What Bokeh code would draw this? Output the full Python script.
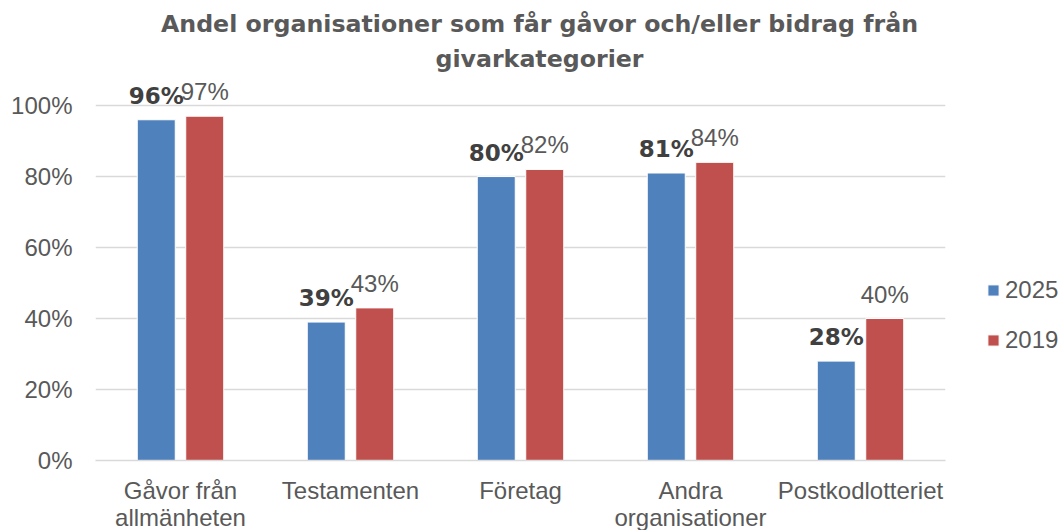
from bokeh.plotting import figure
from bokeh.models import (ColumnDataSource, FactorRange, Range1d, FixedTicker,
                          PrintfTickFormatter, LabelSet, Label, Legend, LegendItem)
from bokeh.core.properties import value
from bokeh.transform import dodge
from bokeh.embed import file_html
from bokeh.resources import INLINE

# ---- data ----
categories = ["Gåvor från\nallmänheten", "Testamenten", "Företag",
              "Andra\norganisationer", "Postkodlotteriet"]
share_2025 = [96, 39, 80, 81, 28]
share_2019 = [97, 43, 82, 84, 40]
series_names = ["2025", "2019"]
y_ticks = [0, 20, 40, 60, 80, 100]
title_text = "Andel organisationer som får gåvor och/eller bidrag från\ngivarkategorier"

labels_2025 = [f"{v}%" for v in share_2025]
labels_2019 = [f"{v}%" for v in share_2019]

source = ColumnDataSource(data=dict(cat=categories, v2025=share_2025, v2019=share_2019,
                                    l2025=labels_2025, l2019=labels_2019))

BLUE = "#4F81BD"
RED = "#C0504D"
GRID = "#D9D9D9"
TXT = "#595959"
REG_FONT = "Liberation Sans"
BOLD_FONT = "DejaVu Sans"

# frame extends to the top of the figure so that title and labels above 100% are not clipped
Y_END = 129.6

p = figure(x_range=FactorRange(*categories, range_padding=0), y_range=Range1d(0, Y_END),
           frame_width=850, frame_height=460, output_backend="svg", toolbar_location=None,
           min_border_left=95, min_border_right=114, min_border_top=0, min_border_bottom=0,
           outline_line_color=None)

off = 0.1426
bw = 0.2235
r1 = p.vbar(x=dodge("cat", -off, range=p.x_range), top="v2025", width=bw, source=source,
            fill_color=BLUE, line_color="white", line_width=1)
r2 = p.vbar(x=dodge("cat", off, range=p.x_range), top="v2019", width=bw, source=source,
            fill_color=RED, line_color="white", line_width=1)

lab1 = LabelSet(x=dodge("cat", -off, range=p.x_range), y="v2025", text="l2025", source=source,
                text_align="center", text_baseline="alphabetic", y_offset=16,
                text_font=value(BOLD_FONT), text_font_style="bold", text_font_size="23px",
                text_color="#404040")
lab2 = LabelSet(x=dodge("cat", off, range=p.x_range), y="v2019", text="l2019", source=source,
                text_align="center", text_baseline="alphabetic", y_offset=16,
                text_font=value(REG_FONT), text_font_size="24px", text_color=TXT)
p.add_layout(lab1)
p.add_layout(lab2)

# axes
p.yaxis.ticker = FixedTicker(ticks=y_ticks)
p.yaxis.formatter = PrintfTickFormatter(format="%d%%")
p.yaxis.axis_line_color = None
p.yaxis.major_tick_line_color = None
p.yaxis.minor_tick_line_color = None
p.yaxis.major_tick_out = 0
p.yaxis.major_tick_in = 0
p.yaxis.minor_tick_out = 0
p.yaxis.major_label_standoff = 23
p.yaxis.major_label_text_font = REG_FONT
p.yaxis.major_label_text_font_size = "24px"
p.yaxis.major_label_text_color = TXT

p.xaxis.axis_line_color = GRID
p.xaxis.axis_line_width = 1.5
p.xaxis.major_tick_line_color = None
p.xaxis.minor_tick_line_color = None
p.xaxis.major_tick_out = 0
p.xaxis.major_tick_in = 0
p.xaxis.minor_tick_out = 0
p.xaxis.major_label_standoff = 16
p.xaxis.major_label_text_font = REG_FONT
p.xaxis.major_label_text_font_size = "24px"
p.xaxis.major_label_text_color = TXT
p.xaxis.major_label_text_line_height = 1.0

p.xgrid.grid_line_color = None
p.ygrid.grid_line_color = GRID
p.ygrid.grid_line_width = 1.5

# title
title = Label(x=444, y=451, x_units="screen", y_units="screen", text=title_text,
              text_align="center", text_baseline="top", text_font=BOLD_FONT,
              text_font_style="bold", text_font_size="23.7px", text_color=TXT,
              text_line_height=1.27)
p.add_layout(title)

# legend
legend = Legend(items=[LegendItem(label=series_names[0], renderers=[r1]),
                       LegendItem(label=series_names[1], renderers=[r2])],
                location=(41, 106), orientation="vertical",
                border_line_color=None, background_fill_alpha=0,
                padding=0, margin=0, spacing=22, label_height=28,
                glyph_width=14, glyph_height=14, label_standoff=5,
                label_text_font=REG_FONT, label_text_font_size="24px",
                label_text_color=TXT)
p.add_layout(legend, "right")

open("out.html", "w").write(file_html(p, INLINE))
